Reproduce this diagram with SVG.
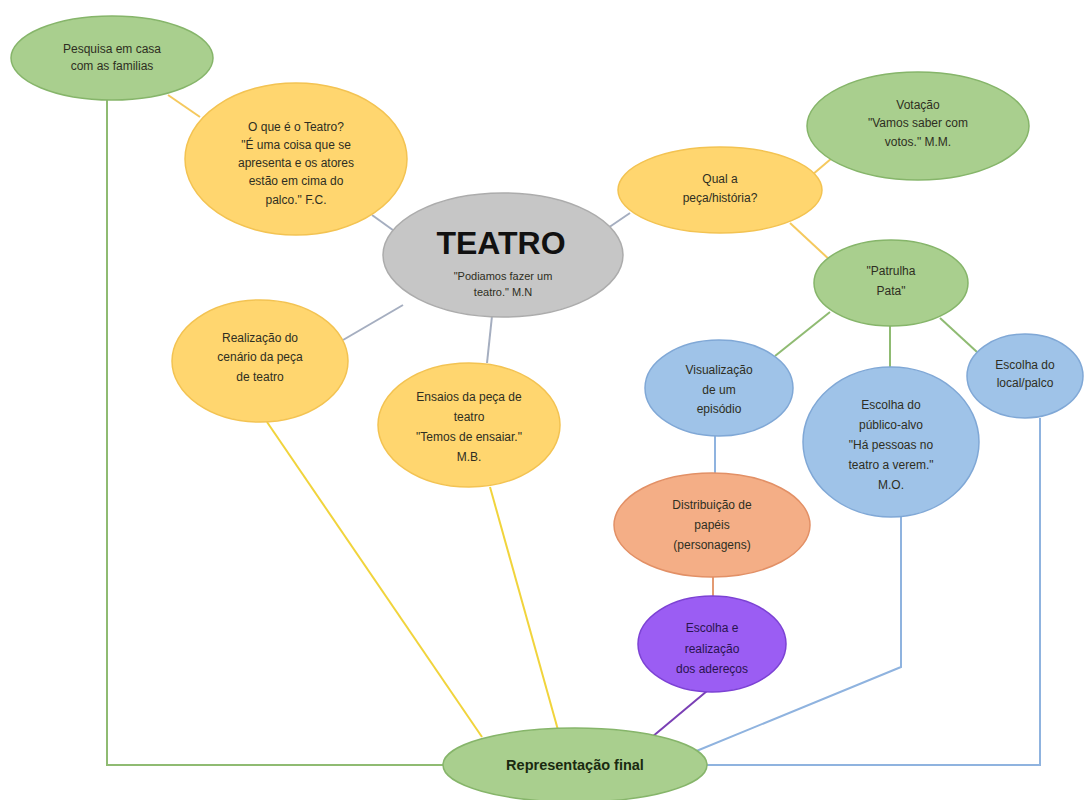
<svg xmlns="http://www.w3.org/2000/svg" width="1087" height="800" viewBox="0 0 1087 800">
<style>
.t{font-family:"Liberation Sans",Arial,sans-serif;font-size:12px;fill:#2e2e22;text-anchor:middle}
.g{fill:#a9cf8e;stroke:#86b56a;stroke-width:1.5}
.y{fill:#ffd66f;stroke:#f3c352;stroke-width:1.5}
.gr{fill:#c6c6c6;stroke:#acacac;stroke-width:1.5}
.b{fill:#9fc3e8;stroke:#80a8d6;stroke-width:1.5}
.o{fill:#f4ae86;stroke:#e29066;stroke-width:1.5}
.p{fill:#9b5df3;stroke:#7c42d4;stroke-width:1.5}
.c{fill:none;stroke-width:2}
.cg{stroke:#8fbb72}.cy{stroke:#f5c95e}.cyb{stroke:#f1d43c}.cgr{stroke:#a5aec0}.cb{stroke:#8fb3df}.co{stroke:#e39a72}.cp{stroke:#7a3fb5}
</style>
<rect width="1087" height="800" fill="#ffffff"/>
<g id="connectors">
<line class="c cy" x1="168" y1="95" x2="200" y2="117"/>
<line class="c cgr" x1="372" y1="215" x2="397" y2="233"/>
<line class="c cgr" x1="605" y1="230" x2="630" y2="213"/>
<line class="c cy" x1="812" y1="175" x2="832" y2="158"/>
<line class="c cy" x1="790" y1="223" x2="832" y2="262"/>
<line class="c cgr" x1="403" y1="305" x2="343" y2="340"/>
<line class="c cgr" x1="492" y1="316" x2="487" y2="363"/>
<line class="c cg" x1="830" y1="312" x2="775" y2="356"/>
<line class="c cg" x1="890" y1="326" x2="890" y2="367"/>
<line class="c cg" x1="940" y1="318" x2="977" y2="352"/>
<line class="c cb" x1="715" y1="436" x2="715" y2="473"/>
<line class="c co" x1="713" y1="577" x2="713" y2="597"/>
<line class="c cp" x1="707" y1="691" x2="652" y2="737"/>
<line class="c cyb" x1="267" y1="422" x2="482" y2="737"/>
<line class="c cyb" x1="490" y1="487" x2="558" y2="730"/>
<polyline class="c cg" points="107,100 107,765 443,765"/>
<polyline class="c cb" points="901,517 901,667 694,752"/>
<polyline class="c cb" points="1040,418 1040,765 707,765"/>
</g>
<g id="pesquisa"><ellipse class="g" cx="112" cy="58" rx="101" ry="42"/>
<text class="t"><tspan x="112" y="53">Pesquisa em casa</tspan><tspan x="112" y="70">com as familias</tspan></text></g>
<g id="oque"><ellipse class="y" cx="296" cy="159" rx="111" ry="76"/>
<text class="t"><tspan x="296" y="131">O que é o Teatro?</tspan><tspan x="296" y="149">"É uma coisa que se</tspan><tspan x="296" y="167">apresenta e os atores</tspan><tspan x="296" y="185">estão em cima do</tspan><tspan x="296" y="204">palco." F.C.</tspan></text></g>
<g id="teatro"><ellipse class="gr" cx="503" cy="255" rx="120" ry="62"/>
<text class="t" style="font-size:32px;font-weight:bold;fill:#111"><tspan x="501" y="254">TEATRO</tspan></text>
<text class="t" style="font-size:11px"><tspan x="503" y="280">"Podiamos fazer um</tspan><tspan x="503" y="296">teatro." M.N</tspan></text></g>
<g id="qual"><ellipse class="y" cx="720" cy="190" rx="102" ry="43"/>
<text class="t"><tspan x="720" y="183">Qual a</tspan><tspan x="720" y="202">peça/história?</tspan></text></g>
<g id="votacao"><ellipse class="g" cx="918" cy="126" rx="111" ry="54"/>
<text class="t"><tspan x="918" y="109">Votação</tspan><tspan x="918" y="127">"Vamos saber com</tspan><tspan x="918" y="146">votos." M.M.</tspan></text></g>
<g id="patrulha"><ellipse class="g" cx="891" cy="283" rx="77" ry="43"/>
<text class="t"><tspan x="891" y="275">"Patrulha</tspan><tspan x="891" y="295">Pata"</tspan></text></g>
<g id="realizacao"><ellipse class="y" cx="260" cy="361" rx="88" ry="61"/>
<text class="t"><tspan x="260" y="342">Realização do</tspan><tspan x="260" y="361">cenário da peça</tspan><tspan x="260" y="381">de teatro</tspan></text></g>
<g id="ensaios"><ellipse class="y" cx="469" cy="425" rx="91" ry="62"/>
<text class="t"><tspan x="469" y="401">Ensaios da peça de</tspan><tspan x="469" y="421">teatro</tspan><tspan x="469" y="441">"Temos de ensaiar."</tspan><tspan x="469" y="461">M.B.</tspan></text></g>
<g id="visualizacao"><ellipse class="b" cx="719" cy="388" rx="74" ry="48"/>
<text class="t"><tspan x="719" y="374">Visualização</tspan><tspan x="719" y="394">de um</tspan><tspan x="719" y="413">episódio</tspan></text></g>
<g id="publico"><ellipse class="b" cx="891" cy="442" rx="88" ry="75"/>
<text class="t"><tspan x="891" y="409">Escolha do</tspan><tspan x="891" y="429">público-alvo</tspan><tspan x="891" y="449">"Há pessoas no</tspan><tspan x="891" y="469">teatro a verem."</tspan><tspan x="891" y="489">M.O.</tspan></text></g>
<g id="local"><ellipse class="b" cx="1025" cy="376" rx="58" ry="42"/>
<text class="t"><tspan x="1025" y="369">Escolha do</tspan><tspan x="1025" y="387">local/palco</tspan></text></g>
<g id="distribuicao"><ellipse class="o" cx="712" cy="525" rx="98" ry="52"/>
<text class="t"><tspan x="712" y="509">Distribuição de</tspan><tspan x="712" y="529">papéis</tspan><tspan x="712" y="549">(personagens)</tspan></text></g>
<g id="aderecos"><ellipse class="p" cx="712" cy="644" rx="74" ry="48"/>
<text class="t" style="fill:#2a1450"><tspan x="712" y="632">Escolha e</tspan><tspan x="712" y="653">realização</tspan><tspan x="712" y="673">dos adereços</tspan></text></g>
<g id="representacao"><ellipse class="g" cx="575" cy="765" rx="132" ry="37"/>
<text class="t" style="font-size:14.5px;font-weight:bold;fill:#1a2a10"><tspan x="575" y="770">Representação final</tspan></text></g>
</svg>
